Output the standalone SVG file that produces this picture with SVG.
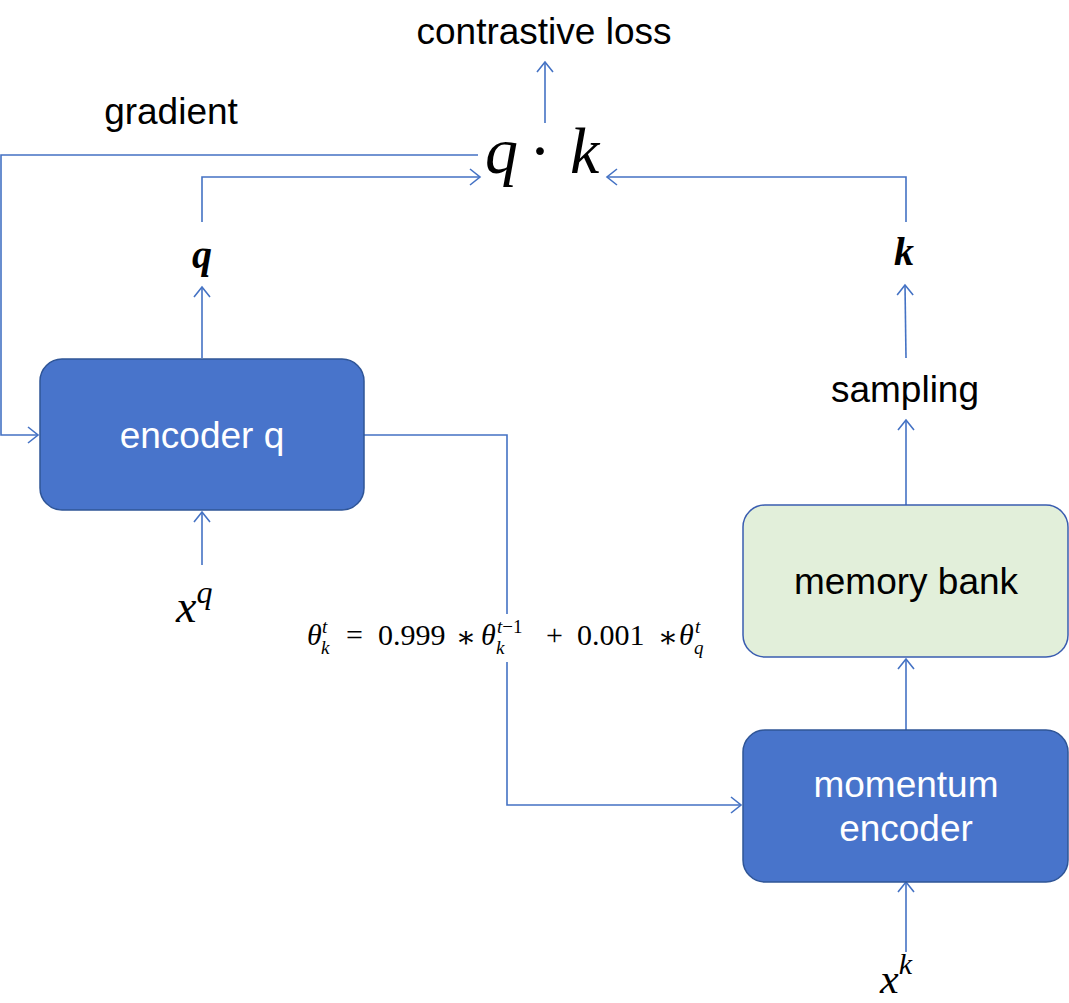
<svg xmlns="http://www.w3.org/2000/svg" width="1069" height="1003" viewBox="0 0 1069 1003">
<style>
.box{fill:#4874CB;stroke:#2F5597;stroke-width:1.5}
.mem{fill:#E2EFDA;stroke:#3A5DB0;stroke-width:1.5}
.lbl{font-family:"Liberation Sans",Arial,sans-serif;font-size:37px;text-anchor:middle}
.w{fill:#ffffff}
.k{fill:#000000}
.math{font-family:"Liberation Serif","DejaVu Serif",serif;font-style:italic;fill:#000}
.rm{font-family:"Liberation Serif","DejaVu Serif",serif;fill:#000}
.conn{fill:none;stroke:#4472C4;stroke-width:1.6}
</style>
<defs>
<marker id="arr" markerUnits="userSpaceOnUse" markerWidth="14" markerHeight="20" refX="11" refY="9" orient="auto" viewBox="0 0 14 20">
<path d="M1,1 L11,9 L1,17" fill="none" stroke="#4472C4" stroke-width="1.6"/>
</marker>
</defs>

<g id="connectors">
<path class="conn" d="M478,155 H1 V435 H38" marker-end="url(#arr)"/>
<path class="conn" d="M202,222 V177 H480" marker-end="url(#arr)"/>
<path class="conn" d="M202,358 V287" marker-end="url(#arr)"/>
<path class="conn" d="M202,565 V512" marker-end="url(#arr)"/>
<path class="conn" d="M906,222 V177 H607" marker-end="url(#arr)"/>
<path class="conn" d="M906,358 L905,285" marker-end="url(#arr)"/>
<path class="conn" d="M906,505 V420" marker-end="url(#arr)"/>
<path class="conn" d="M906,730 V659" marker-end="url(#arr)"/>
<path class="conn" d="M906,952 V882" marker-end="url(#arr)"/>
<path class="conn" d="M545,123 V62" marker-end="url(#arr)"/>
<path class="conn" d="M364,435 H507 V805 H741" marker-end="url(#arr)"/>
</g>

<g id="node-encoder-q">
<rect class="box" x="40" y="359" width="324" height="151" rx="22"/>
<text class="lbl w" x="202" y="448">encoder q</text>
</g>

<g id="node-memory-bank">
<rect class="mem" x="743" y="505" width="325" height="152" rx="22"/>
<text class="lbl k" x="906" y="594">memory bank</text>
</g>

<g id="node-momentum-encoder">
<rect class="box" x="743" y="730" width="325" height="152" rx="22"/>
<text class="lbl w" x="906" y="797">momentum</text>
<text class="lbl w" x="906" y="841">encoder</text>
</g>

<g id="labels">
<text class="lbl k" x="544" y="44">contrastive loss</text>
<text class="lbl k" x="171" y="124">gradient</text>
<text class="lbl k" x="905" y="402">sampling</text>
<text class="math" x="485" y="173" font-size="66">q</text>
<text class="rm" x="540" y="173" font-size="66" text-anchor="middle">·</text>
<text class="math" x="570" y="173" font-size="66">k</text>
<text class="math" x="202" y="268" font-size="40" font-weight="bold" text-anchor="middle">q</text>
<text class="math" x="904" y="265" font-size="40" font-weight="bold" text-anchor="middle">k</text>
<text class="math" x="176" y="622" font-size="46">x<tspan font-size="32" dy="-19">q</tspan></text>
<text class="math" x="880" y="993" font-size="42">x<tspan font-size="30" dy="-19">k</tspan></text>
</g>

<g id="formula">
<rect x="303" y="614" width="406" height="48" fill="#ffffff"/>
<text class="math" x="307" y="645" font-size="30">θ</text>
<text class="math" x="322" y="633" font-size="19">t</text>
<text class="math" x="321" y="654" font-size="19">k</text>
<text class="rm" x="346" y="645" font-size="30">=</text>
<text class="rm" x="378" y="645" font-size="30">0.999</text>
<text class="rm" x="466" y="647" font-size="30" text-anchor="middle">∗</text>
<text class="math" x="481" y="645" font-size="30">θ</text>
<text class="math" x="497" y="633" font-size="19">t<tspan font-style="normal">−1</tspan></text>
<text class="math" x="496" y="654" font-size="19">k</text>
<text class="rm" x="546" y="645" font-size="30">+</text>
<text class="rm" x="577" y="645" font-size="30">0.001</text>
<text class="rm" x="668" y="647" font-size="30" text-anchor="middle">∗</text>
<text class="math" x="679" y="645" font-size="30">θ</text>
<text class="math" x="695" y="633" font-size="19">t</text>
<text class="math" x="694" y="654" font-size="19">q</text>
</g>
</svg>
